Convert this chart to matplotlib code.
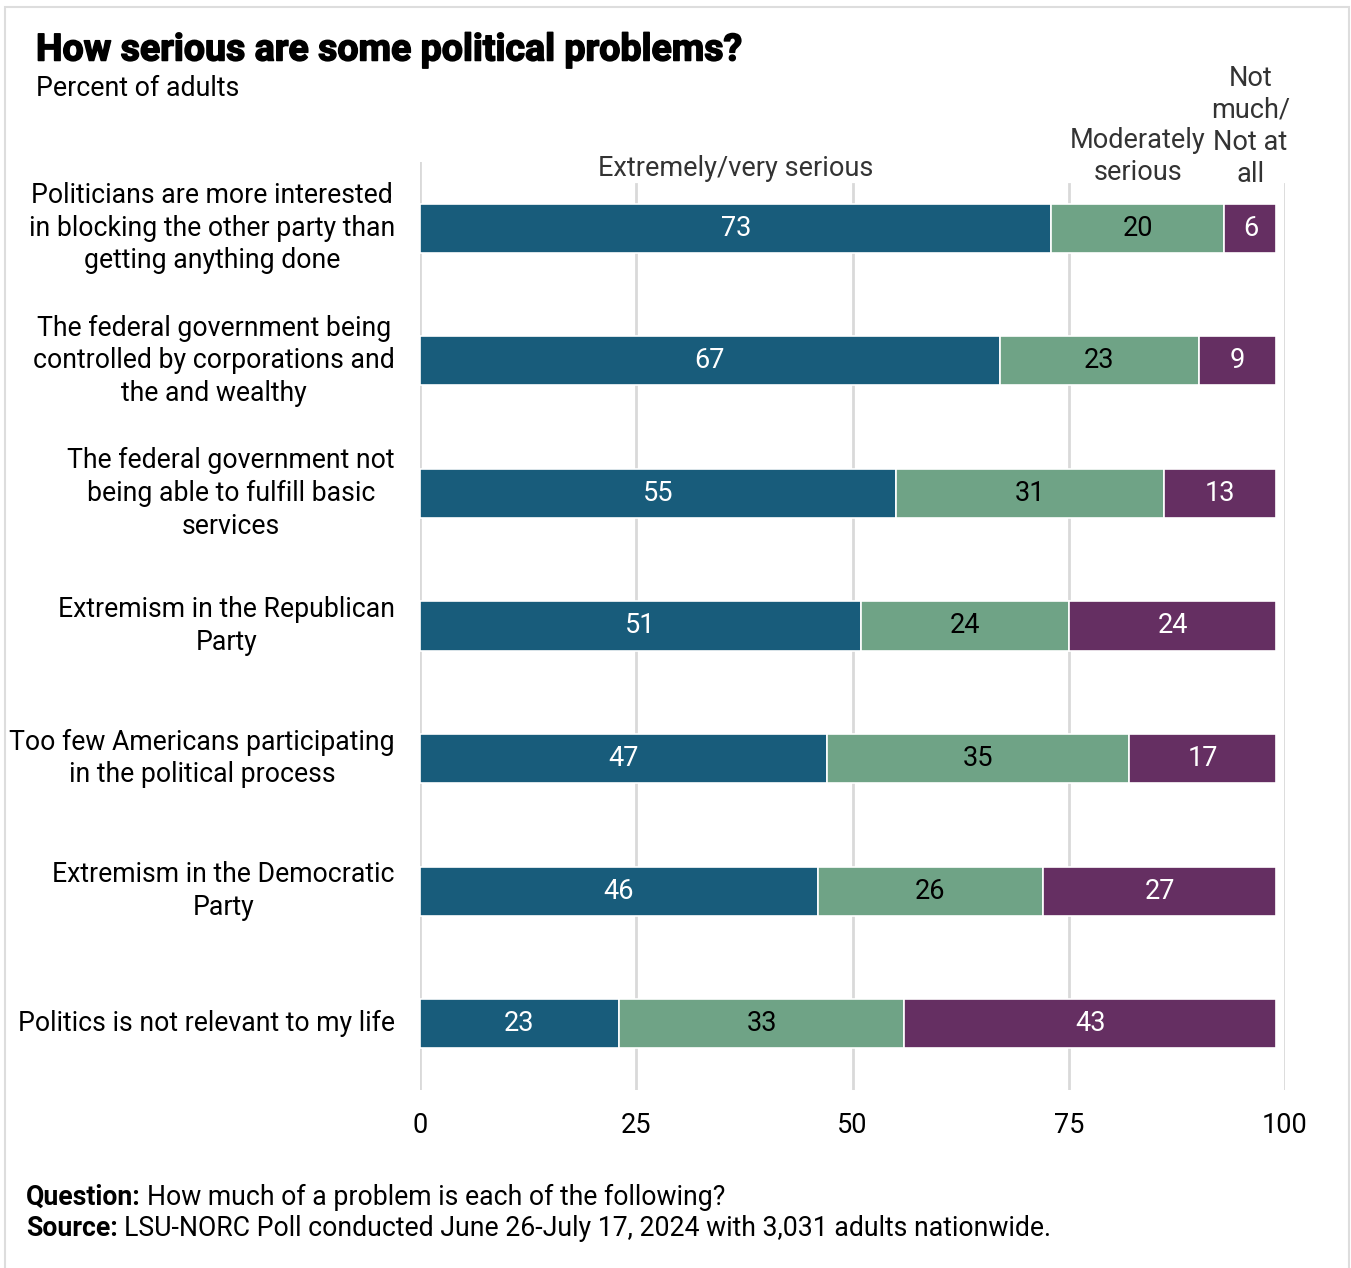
import matplotlib
matplotlib.use("Agg")
import matplotlib.pyplot as plt
from matplotlib.patches import Rectangle
import matplotlib.patheffects as pe
import matplotlib.transforms as mtransforms

categories = [
    "Politicians are more interested\nin blocking the other party than\ngetting anything done",
    "The federal government being\ncontrolled by corporations and\nthe and wealthy",
    "The federal government not\nbeing able to fulfill basic\nservices",
    "Extremism in the Republican\nParty",
    "Too few Americans participating\nin the political process",
    "Extremism in the Democratic\nParty",
    "Politics is not relevant to my life",
]
extremely = [73, 67, 55, 51, 47, 46, 23]
moderately = [20, 23, 31, 24, 35, 26, 33]
not_much = [6, 9, 13, 24, 17, 27, 43]
series_names = ["Extremely/very serious", "Moderately\nserious", "Not\nmuch/\nNot at\nall"]
x_ticks = [0, 25, 50, 75, 100]

colors = ["#185c7b", "#6fa386", "#652f62"]
text_colors = ["white", "black", "white"]

plt.rcParams['font.family'] = ['Roboto', 'DejaVu Sans']

W, H = 1351, 1268
fig = plt.figure(figsize=(W / 100, H / 100), dpi=100)

def fx(px):
    return px / W

def fy(py):
    return 1 - py / H

# outer border
fig.patches.append(Rectangle((fx(5), fy(1300)), fx(1344), fy(7) - fy(1300),
                             transform=fig.transFigure, fill=False,
                             edgecolor="#dddddd", linewidth=1.5, zorder=0))

ax_top, ax_bot = 162, 1090
ax = fig.add_axes([fx(420), fy(ax_bot), fx(1285) - fx(420), fy(ax_top) - fy(ax_bot)])

n = len(categories)
ypos = list(range(n))
bar_h = 0.37
left = [0] * n
for vals, col, tcol in zip([extremely, moderately, not_much], colors, text_colors):
    ax.barh(ypos, vals, left=left, height=bar_h, color=col,
            edgecolor="white", linewidth=1.2, zorder=3)
    for y, v, l in zip(ypos, vals, left):
        ax.text(l + v / 2, y, str(v), ha="center", va="center",
                color=tcol, fontsize=19.5, zorder=4)
    left = [a + b for a, b in zip(left, vals)]

ax.set_ylim(n - 0.5, -0.5)
ax.set_xlim(0, 100)
ax.set_xticks(x_ticks)
ax.set_xticklabels([str(t) for t in x_ticks], fontsize=19.5)
ax.tick_params(axis="x", length=0, pad=16)
ax.set_yticks([])
for s in ax.spines.values():
    s.set_visible(False)

# gridlines: the zero line runs to the top, the others stop below the headers
grid_top_frac = (ax_bot - 184) / (ax_bot - ax_top)
for t in x_ticks:
    ax.axvline(t, ymin=0, ymax=1.0 if t == 0 else grid_top_frac,
               color="#d9d9d9", linewidth=2, zorder=0)

# category labels
for y, lab in zip(ypos, categories):
    ax.text(-2.9, y, lab, ha="right", va="center", multialignment="center",
            fontsize=19.2, color="black", linespacing=1.27,
            transform=ax.transData)

# column headers above the first row
hdr_centers = [extremely[0] / 2, extremely[0] + moderately[0] / 2,
               extremely[0] + moderately[0] + not_much[0] / 2]
hdr_bottoms = [182, 186, 188]
blend = mtransforms.blended_transform_factory(ax.transData, fig.transFigure)
for xc, name, bpx in zip(hdr_centers, series_names, hdr_bottoms):
    ax.text(xc, fy(bpx), name, ha="center", va="bottom",
            multialignment="center", fontsize=19.5, color="#333333",
            linespacing=1.24, clip_on=False, transform=blend)

# title & subtitle
fig.text(fx(36), fy(50), "How serious are some political problems?",
         fontsize=27, fontweight="bold", ha="left", va="center", color="black",
         path_effects=[pe.withStroke(linewidth=1.1, foreground="black")])
fig.text(fx(36), fy(89), "Percent of adults", fontsize=19.3,
         ha="left", va="center", color="black")

# footer
renderer = fig.canvas.get_renderer()
for ypx, lab, body in [(1197, "Question:", "How much of a problem is each of the following?"),
                       (1229, "Source:", "LSU-NORC Poll conducted June 26-July 17, 2024 with 3,031 adults nationwide.")]:
    t = fig.text(fx(26), fy(ypx), lab, fontsize=19.2, fontweight="bold",
                 ha="left", va="center")
    bb = t.get_window_extent(renderer=renderer)
    fig.text(bb.x1 / W + fx(6), fy(ypx), body, fontsize=19.2,
             ha="left", va="center")

fig.savefig("out.png", dpi=100, facecolor="white")
